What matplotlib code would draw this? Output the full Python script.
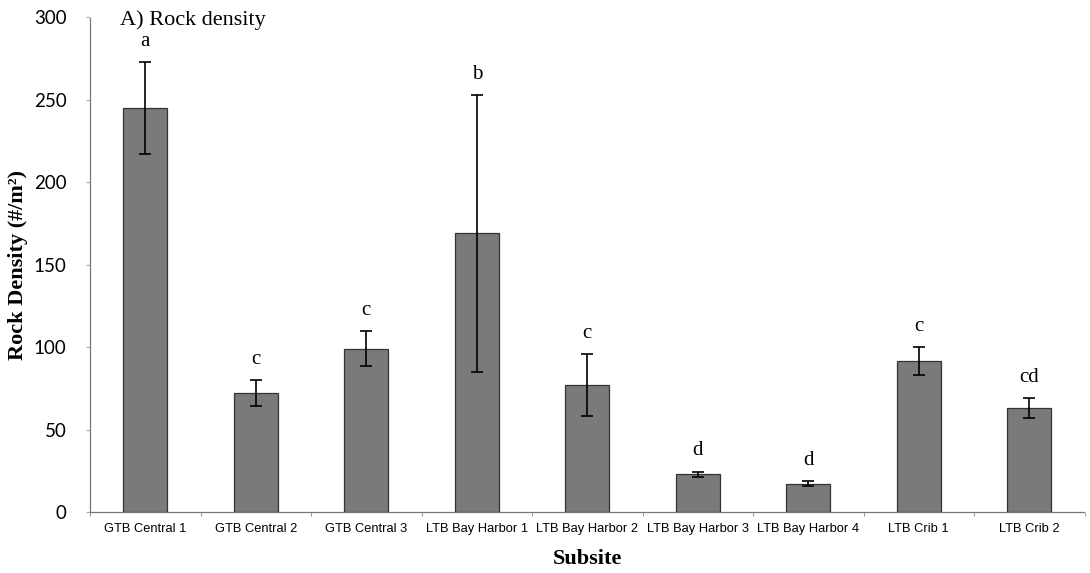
import matplotlib
matplotlib.use("Agg")
import matplotlib.pyplot as plt
from matplotlib.ticker import FixedLocator
import numpy as np

subsites = ["GTB Central 1", "GTB Central 2", "GTB Central 3", "LTB Bay Harbor 1",
            "LTB Bay Harbor 2", "LTB Bay Harbor 3", "LTB Bay Harbor 4", "LTB Crib 1", "LTB Crib 2"]
density = [245, 72, 99, 169, 77, 23, 17, 91.5, 63]
err = [28, 8, 10.5, 84, 19, 1.5, 1.5, 8.5, 6]
letters = ["a", "c", "c", "b", "c", "d", "d", "c", "cd"]
yticks = [0, 50, 100, 150, 200, 250, 300]

fig = plt.figure(figsize=(10.9, 5.73), dpi=100)
ax = fig.add_axes([0.0826, 0.1065, 0.9124, 0.8635])

x = np.arange(len(subsites))
ax.bar(x, density, width=0.4, color="#7a7a7a", edgecolor="#333333", linewidth=0.9, zorder=2)
ax.errorbar(x, density, yerr=err, fmt="none", ecolor="black", elinewidth=1.2,
            capsize=4, capthick=1.2, zorder=3)

serif = ["Liberation Serif", "DejaVu Serif"]
for xi, v, e, lab in zip(x, density, err, letters):
    ax.annotate(lab, (xi, v + e), xytext=(0, 8), textcoords="offset points",
                ha="center", va="bottom", fontsize=15, family=serif)

ax.set_xlim(-0.5, len(subsites) - 0.5)
ax.set_ylim(0, 300)
ax.set_yticks(yticks)
ax.set_yticklabels([str(t) for t in yticks], family=["Lato", "DejaVu Sans"], fontsize=13.5)
ax.set_xticks(x)
ax.set_xticklabels(subsites, family=["Liberation Sans Narrow", "Liberation Sans"], fontsize=9.3)
ax.xaxis.set_minor_locator(FixedLocator(np.arange(-0.5, len(subsites), 1.0)))
ax.tick_params(axis="x", which="major", length=0, pad=8)
ax.tick_params(axis="x", which="minor", length=3, color="#888888", direction="out")
ax.tick_params(axis="y", length=3, color="#aaaaaa", pad=14)

for s in ["top", "right"]:
    ax.spines[s].set_visible(False)
for s in ["left", "bottom"]:
    ax.spines[s].set_linestyle((0, (1, 1)))
    ax.spines[s].set_color("#777777")
    ax.spines[s].set_linewidth(0.9)

ax.set_ylabel("Rock Density (#/m²)", family=serif, fontsize=16, fontweight="bold", labelpad=4)
ax.set_xlabel("Subsite", family=serif, fontsize=16, fontweight="bold", labelpad=10)
ax.text(0.03, 0.995, "A) Rock density", transform=ax.transAxes, family=serif,
        fontsize=16, ha="left", va="center")

fig.savefig("out.png", dpi=100)
